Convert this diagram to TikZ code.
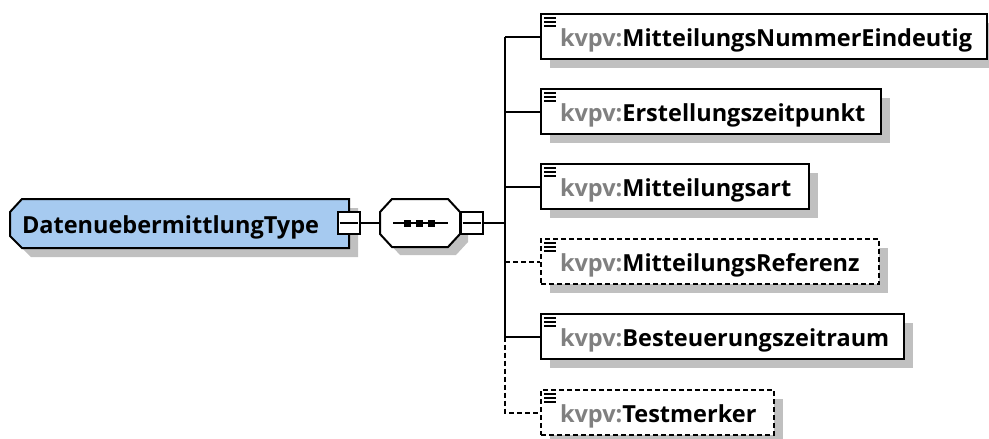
\documentclass[tikz,border=0pt]{standalone}
\usepackage{fontspec}
\setmainfont{Open Sans}
\usetikzlibrary{shadows}
\definecolor{typeblue}{RGB}{166,202,240}
\definecolor{shadowgray}{RGB}{192,192,192}
\definecolor{nsgray}{RGB}{128,128,128}
\newcommand{\eltext}[2]{\makebox[#1][l]{\hspace{19pt}\textcolor{nsgray}{kvpv:}#2}}
\begin{document}
\begin{tikzpicture}[x=1pt,y=-1pt,
  lw/.style={line width=2pt},
  txt/.style={font=\bfseries\fontsize{23.5}{27}\selectfont,text height=22pt,text depth=3pt},
  shd/.style={drop shadow={shadow xshift=9pt,shadow yshift=-9pt,fill=shadowgray,opacity=1}},
  elem/.style={lw,draw=black,fill=white,shd,rectangle,anchor=north west,minimum height=45pt,inner sep=0pt,txt},
  optelem/.style={elem,dash pattern=on 5pt off 3pt},
  minusbox/.style={lw,draw=black,fill=white,rectangle,minimum size=22pt,inner sep=0pt},
  conn/.style={lw,draw=black},
  optconn/.style={conn,dash pattern=on 5pt off 3pt},
  icon/.style={line width=1.4pt}
]
\useasboundingbox (0,0) rectangle (989,439);
% ---- complex type node
\fill[shadowgray] (19,221) -- (31,208) -- (358,208) -- (358,257) -- (31,257) -- (19,245) -- cycle;
\filldraw[lw,fill=typeblue] (10,212) -- (22,199) -- (349,199) -- (349,248) -- (22,248) -- (10,236) -- cycle;
\node[inner sep=0pt,minimum height=49pt,txt] (type) at (179.5,223.5) {\makebox[339pt][l]{\hspace{12pt}DatenuebermittlungType}};
\node[minusbox] (tm) at (348.5,223) {};
\draw[lw] ([xshift=3pt]tm.west) -- ([xshift=-3pt]tm.east);
% ---- sequence compositor
\fill[shadowgray] (388,220) -- (400,207) -- (456,207) -- (468,220) -- (468,242) -- (456,255) -- (400,255) -- (388,242) -- cycle;
\filldraw[lw,fill=white] (380,212) -- (392,199) -- (448,199) -- (460,212) -- (460,234) -- (448,247) -- (392,247) -- (380,234) -- cycle;
\node[inner sep=0pt,minimum width=80pt,minimum height=48pt] (seq) at (420,223) {};
\draw[lw] (393,223) -- (448,223);
\foreach \cx in {407,419,431} \fill (\cx-3.5,219.5) rectangle (\cx+3.5,226.5);
\node[minusbox] (sm) at (471.5,223) {};
\draw[lw] ([xshift=3pt]sm.west) -- ([xshift=-3pt]sm.east);
\draw[conn] (tm.east) -- (seq.west);
\coordinate (sp) at (505,223);
\draw[conn] (sm.east) -- (sp);
% ---- child elements
\node[elem] (b1) at (540,13) {\eltext{446pt}{MitteilungsNummerEindeutig}};
\node[elem] (b2) at (540,88) {\eltext{340pt}{Erstellungszeitpunkt}};
\node[elem] (b3) at (540,163) {\eltext{268pt}{Mitteilungsart}};
\node[optelem] (b4) at (540,238) {\eltext{338pt}{MitteilungsReferenz}};
\node[elem] (b5) at (540,313) {\eltext{363pt}{Besteuerungszeitraum}};
\node[optelem] (b6) at (540,389) {\eltext{233pt}{Testmerker}};
\foreach \b in {b1,b2,b3,b4,b5,b6}{
  \foreach \dy in {5,9,13}
    \draw[icon] ([xshift=4pt,yshift=-\dy pt]\b.north west) -- ++(12,0);
}
% ---- connectors
\draw[conn] (sp |- b1.west) -- (sp |- b5.west);
\draw[optconn] (sp |- b5.west) -- (sp |- b6.west) -- (b6.west);
\draw[conn] (sp |- b1.west) -- (b1.west);
\draw[conn] (sp |- b2.west) -- (b2.west);
\draw[conn] (sp |- b3.west) -- (b3.west);
\draw[optconn] (sp |- b4.west) -- (b4.west);
\draw[conn] (sp |- b5.west) -- (b5.west);
\end{tikzpicture}
\end{document}
